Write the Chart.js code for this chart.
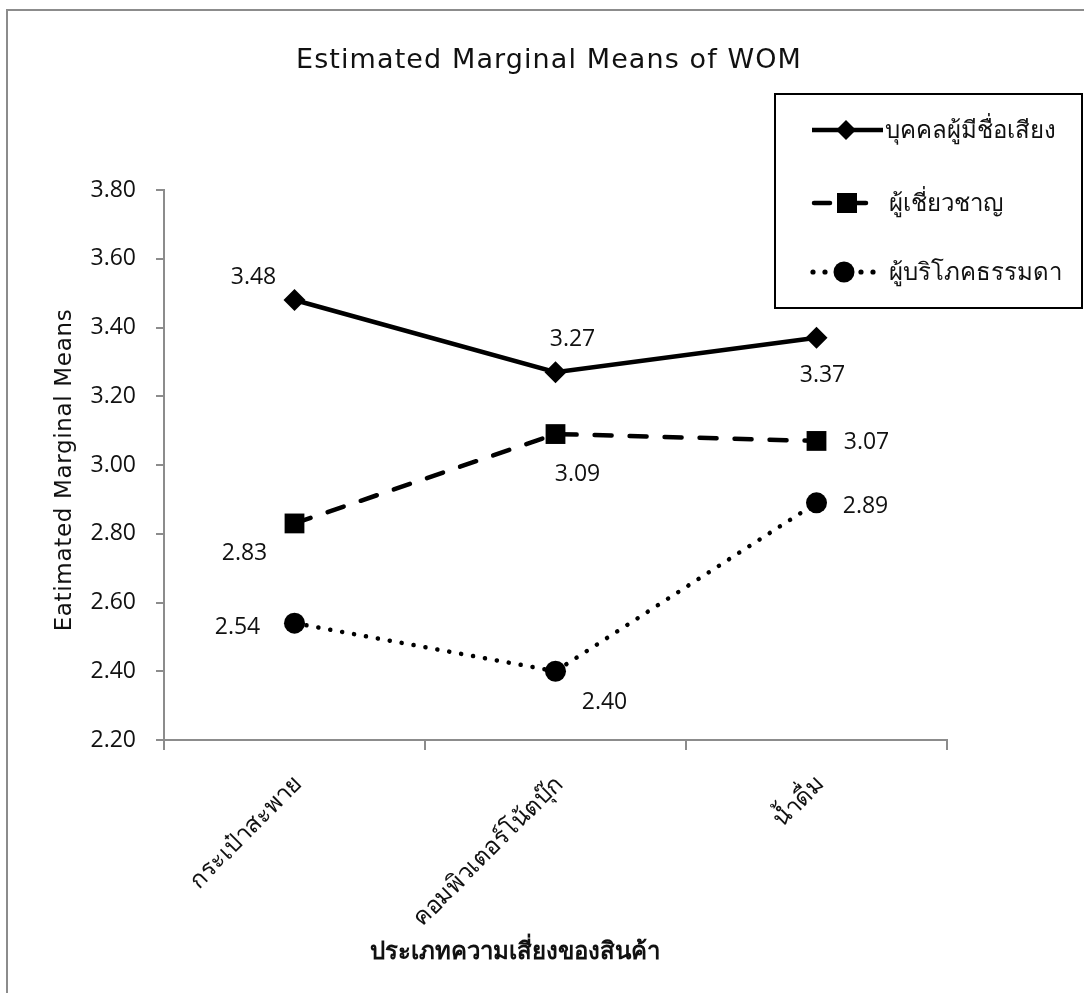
<!DOCTYPE html>
<html>
<head>
<meta charset="utf-8">
<style>
  html, body { margin: 0; padding: 0; background: #fff; }
  #wrap { width: 1084px; height: 993px; position: relative; }
</style>
<script src="https://cdn.jsdelivr.net/npm/chart.js@4.4.1/dist/chart.umd.min.js"></script>
</head>
<body>
<div id="wrap"><canvas id="c" width="1084" height="993"></canvas></div>
<script>
const categories = ["กระเป๋าสะพาย", "คอมพิวเตอร์โน้ตบุ๊ก", "น้ำดื่ม"];
const seriesNames = ["บุคคลผู้มีชื่อเสียง", "ผู้เชี่ยวชาญ", "ผู้บริโภคธรรมดา"];
const celebrity = [3.48, 3.27, 3.37];
const expert = [2.83, 3.09, 3.07];
const consumer = [2.54, 2.40, 2.89];
const yTicks = [2.20, 2.40, 2.60, 2.80, 3.00, 3.20, 3.40, 3.60, 3.80];
const chartTitle = "Estimated Marginal Means of WOM";
const yTitle = "Eatimated Marginal Means";
const xTitle = "ประเภทความเสี่ยงของสินค้า";

const FONT = "'Open Sans', 'DejaVu Sans', sans-serif";
const WIDE = "'DejaVu Sans', 'Open Sans', sans-serif";
const THAI = "'Noto Sans', 'DejaVu Sans', sans-serif";

// label offsets per series/point [dx, dy] relative to the point (style only)
const labelOffsets = [
  [[-41, -23], [17, -33], [6, 38]],
  [[-50, 30], [22, 40], [50, 2]],
  [[-57, 4], [49, 31], [49, 4]]
];

const dashStyles = [[], [17, 18], [0.1, 12]];
const capStyles = ['butt', 'round', 'round'];
const markerStyles = ['rectRot', 'rect', 'circle'];
const markerRadius = [11, 14, 10.5];

const datasets = [celebrity, expert, consumer].map((d, i) => ({
  label: seriesNames[i],
  data: d,
  borderColor: '#000',
  backgroundColor: '#000',
  borderWidth: 4.5,
  borderDash: dashStyles[i],
  borderCapStyle: capStyles[i],
  pointStyle: markerStyles[i],
  pointRadius: markerRadius[i],
  pointBorderWidth: 0,
  pointBackgroundColor: '#000',
  tension: 0
}));

function fitText(ctx, text, x, y, target) {
  const w = ctx.measureText(text).width;
  const n = Math.max(text.length - 1, 1);
  const sp = Math.max(-0.5, Math.min(3, (target - w) / n));
  ctx.letterSpacing = sp.toFixed(2) + 'px';
  ctx.fillText(text, x, y);
  ctx.letterSpacing = '0px';
}

const decorPlugin = {
  id: 'decor',
  beforeDraw(chart) {
    const ctx = chart.ctx;
    ctx.save();
    ctx.fillStyle = '#fff';
    ctx.fillRect(0, 0, chart.width, chart.height);
    ctx.strokeStyle = '#8c8c8c';
    ctx.lineWidth = 2;
    ctx.beginPath();
    ctx.moveTo(7, chart.height);
    ctx.lineTo(7, 10);
    ctx.lineTo(chart.width, 10);
    ctx.stroke();
    ctx.restore();
  },
  afterDraw(chart) {
    const ctx = chart.ctx;
    ctx.save();
    // title
    ctx.fillStyle = '#111';
    ctx.font = "27px " + WIDE;
    ctx.textAlign = 'center';
    ctx.textBaseline = 'middle';
    fitText(ctx, chartTitle, 549, 61, 505);
    // y title
    ctx.save();
    ctx.translate(65, 470);
    ctx.rotate(-Math.PI / 2);
    ctx.font = "23px " + WIDE;
    fitText(ctx, yTitle, 0, 0, 322);
    ctx.restore();
    // x title
    ctx.font = "bold 24px " + THAI;
    ctx.fillText(xTitle, 515, 952);

    // data labels
    ctx.font = "23px " + FONT;
    ctx.fillStyle = '#111';
    chart.data.datasets.forEach((ds, i) => {
      const meta = chart.getDatasetMeta(i);
      meta.data.forEach((pt, j) => {
        const off = labelOffsets[i][j];
        ctx.fillText(ds.data[j].toFixed(2), pt.x + off[0], pt.y + off[1]);
      });
    });

    // legend
    const lx = 775, ly = 94, lw = 307, lh = 214;
    ctx.fillStyle = '#fff';
    ctx.fillRect(lx, ly, lw, lh);
    ctx.strokeStyle = '#000';
    ctx.lineWidth = 2;
    ctx.strokeRect(lx, ly, lw, lh);
    const rows = [130, 203, 272];
    const textX = [885, 889, 889];
    const mx = 846;
    ctx.fillStyle = '#000';
    ctx.strokeStyle = '#000';
    ctx.lineWidth = 4.5;
    // row 1: solid line + diamond
    let y = rows[0];
    ctx.beginPath(); ctx.moveTo(812, y); ctx.lineTo(883, y); ctx.stroke();
    ctx.beginPath(); ctx.moveTo(mx - 10, y); ctx.lineTo(mx, y - 10); ctx.lineTo(mx + 10, y); ctx.lineTo(mx, y + 10); ctx.closePath(); ctx.fill();
    // row 2: dash + square + dash
    y = rows[1];
    ctx.lineCap = 'round';
    ctx.beginPath(); ctx.moveTo(814, y); ctx.lineTo(830, y); ctx.stroke();
    ctx.beginPath(); ctx.moveTo(856, y); ctx.lineTo(866, y); ctx.stroke();
    ctx.fillRect(837, y - 10, 20, 20);
    // row 3: dots + circle + dots
    y = rows[2];
    [813, 825, 861, 873].forEach(dx => { ctx.beginPath(); ctx.arc(dx, y, 2.6, 0, Math.PI * 2); ctx.fill(); });
    ctx.beginPath(); ctx.arc(844, y, 10.5, 0, Math.PI * 2); ctx.fill();

    ctx.font = "24px " + THAI;
    ctx.textAlign = 'left';
    ctx.fillStyle = '#111';
    chart.data.datasets.forEach((ds, i) => {
      ctx.fillText(ds.label, textX[i], rows[i] + 1);
    });
    ctx.restore();
  }
};

new Chart(document.getElementById('c'), {
  type: 'line',
  data: { labels: categories, datasets },
  options: {
    responsive: false,
    animation: false,
    events: [],
    layout: { padding: { left: 8, right: 137, top: 190, bottom: 0 } },
    plugins: {
      legend: { display: false },
      title: { display: false },
      tooltip: { enabled: false }
    },
    scales: {
      x: {
        offset: true,
        grid: {
          offset: true,
          drawOnChartArea: false,
          drawTicks: true,
          tickLength: 10,
          color: '#8c8c8c',
          lineWidth: 2
        },
        border: { display: true, color: '#8c8c8c', width: 2 },
        ticks: {
          minRotation: 45,
          maxRotation: 45,
          autoSkip: false,
          padding: 20,
          labelOffset: 4,
          color: '#111',
          font: { size: 24, family: THAI }
        },
        afterFit(scale) { scale.height = 253; }
      },
      y: {
        min: 2.2,
        max: 3.8,
        afterBuildTicks(scale) { scale.ticks = yTicks.map(v => ({ value: v })); },
        grid: {
          drawOnChartArea: false,
          drawTicks: true,
          tickLength: 8,
          color: '#8c8c8c',
          lineWidth: 2
        },
        border: { display: true, color: '#8c8c8c', width: 2 },
        ticks: {
          padding: 20,
          color: '#111',
          font: { size: 23, family: FONT },
          callback: v => Number(v).toFixed(2)
        },
        afterFit(scale) { scale.width = 156; }
      }
    }
  },
  plugins: [decorPlugin]
});
</script>
</body>
</html>
